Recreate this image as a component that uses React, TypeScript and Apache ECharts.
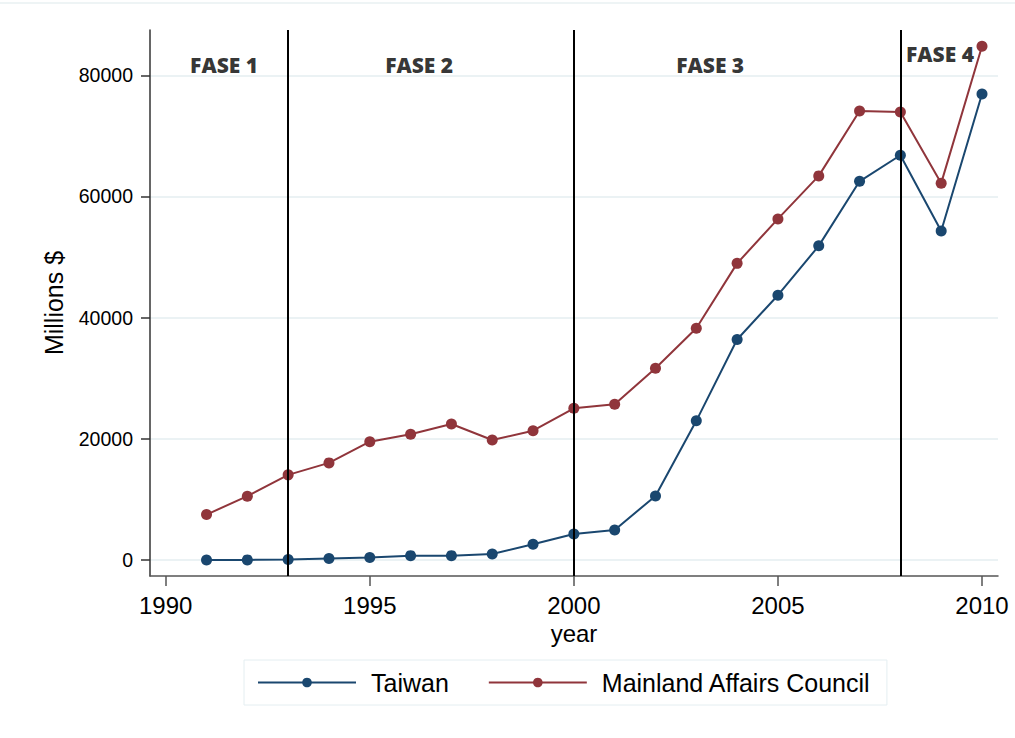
import React, { useEffect, useRef } from "react";
import * as echarts from "echarts";

const years = [1991, 1992, 1993, 1994, 1995, 1996, 1997, 1998, 1999, 2000, 2001, 2002, 2003, 2004, 2005, 2006, 2007, 2008, 2009, 2010];
const taiwan = [10, 20, 100, 250, 400, 720, 720, 1000, 2600, 4300, 4950, 10580, 22970, 36400, 43700, 51850, 62500, 66800, 54300, 76900];
const mac = [7500, 10530, 14050, 16030, 19530, 20740, 22440, 19800, 21340, 25030, 25690, 31640, 38250, 48960, 56300, 63400, 74100, 73950, 62200, 84800];
const xTicks = [1990, 1995, 2000, 2005, 2010];
const yTicks = [0, 20000, 40000, 60000, 80000];
const phaseBreaks = [1993, 2000, 2008];
const phaseLabels = ["FASE 1", "FASE 2", "FASE 3", "FASE 4"];
const phaseX = [1991.43, 1996.21, 2003.34, 2008.97];
const phaseY = [81700, 81700, 81700, 83500];

const BLUE = "#1a476f";
const RED = "#90353b";
const FONT = "'Liberation Sans', Arial, sans-serif";

export default function App() {
  const ref = useRef<HTMLDivElement>(null);
  useEffect(() => {
    document.body.style.margin = "0";
    const chart = echarts.init(ref.current!, undefined, { renderer: "svg" });
    chart.setOption({
      animation: false,
      backgroundColor: "#ffffff",
      grid: { left: 150, right: 17, top: 30, bottom: 162 },
      xAxis: {
        type: "value",
        min: 1989.615,
        max: 2010.392,
        name: "year",
        nameLocation: "middle",
        nameGap: 44,
        nameTextStyle: { fontFamily: FONT, fontSize: 24, color: "#000" },
        axisLine: { show: true, onZero: false, lineStyle: { color: "#555", width: 1.5 } },
        axisTick: { show: true, length: 10, customValues: xTicks, lineStyle: { color: "#555", width: 1.5 } },
        axisLabel: {
          customValues: xTicks,
          formatter: (v: number) => String(v),
          fontFamily: FONT,
          fontSize: 24,
          color: "#000",
          margin: 17,
        },
        splitLine: { show: false },
      },
      yAxis: {
        type: "value",
        min: -2641,
        max: 87477,
        name: "Millions $",
        nameLocation: "middle",
        nameGap: 84,
        nameRotate: 90,
        nameTextStyle: { fontFamily: FONT, fontSize: 25, color: "#000" },
        axisLine: { show: true, lineStyle: { color: "#333", width: 1.5 } },
        axisTick: { show: true, length: 9, customValues: yTicks, lineStyle: { color: "#333", width: 1.5 } },
        axisLabel: {
          customValues: yTicks,
          formatter: (v: number) => String(v),
          fontFamily: FONT,
          fontSize: 19.5,
          color: "#000",
          margin: 17,
        },
        splitLine: { show: true, lineStyle: { color: "#e4eef1", width: 1.5 } },
      },
      legend: {
        left: 244,
        top: 660,
        data: ["Taiwan", "Mainland Affairs Council"],
        itemWidth: 98,
        itemHeight: 12,
        itemGap: 39,
        padding: [10, 16, 10, 13],
        borderColor: "#e4eef1",
        borderWidth: 1,
        textStyle: { fontFamily: FONT, fontSize: 25, color: "#000", padding: [0, 0, 0, 10] },
      },
      graphic: [
        { type: "line", shape: { x1: 0, y1: 3, x2: 1015, y2: 3 }, style: { stroke: "#e8f0f2", lineWidth: 1.5 }, silent: true },
      ],
      series: [
        {
          name: "Taiwan",
          type: "line",
          data: years.map((y, i) => [y, taiwan[i]]),
          symbol: "circle",
          symbolSize: 11,
          color: BLUE,
          lineStyle: { color: BLUE, width: 2 },
          itemStyle: { color: BLUE },
          z: 3,
          markLine: {
            silent: true,
            symbol: "none",
            label: { show: false },
            lineStyle: { color: "#000", width: 2, type: "solid" },
            data: phaseBreaks.map((x) => ({ xAxis: x })),
            z: 6,
          },
        },
        {
          name: "Mainland Affairs Council",
          type: "line",
          data: years.map((y, i) => [y, mac[i]]),
          symbol: "circle",
          symbolSize: 11,
          color: RED,
          lineStyle: { color: RED, width: 2 },
          itemStyle: { color: RED },
          z: 3,
        },
        {
          name: "phases",
          type: "scatter",
          data: phaseLabels.map((t, i) => [phaseX[i], phaseY[i], t]),
          symbolSize: 1,
          itemStyle: { color: "transparent" },
          silent: true,
          label: {
            show: true,
            position: "inside",
            formatter: (p: any) => p.value[2],
            fontFamily: "'Open Sans', Lato, sans-serif",
            fontWeight: 800,
            fontSize: 21,
            color: "#000",
          },
          z: 7,
        },
      ],
    });
    return () => chart.dispose();
  }, []);
  return <div ref={ref} style={{ width: 1015, height: 738 }} />;
}
